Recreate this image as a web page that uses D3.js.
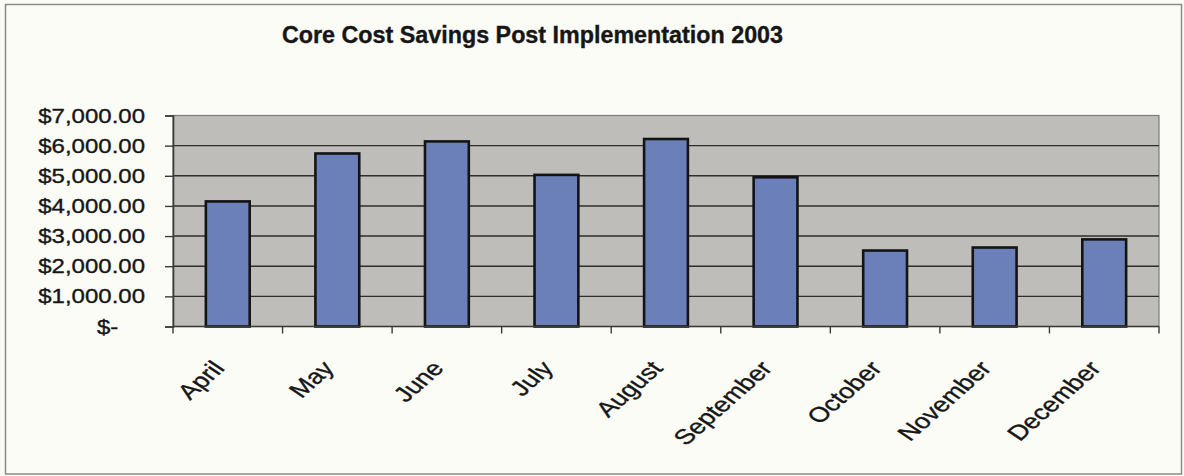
<!DOCTYPE html>
<html>
<head>
<meta charset="utf-8">
<script src="https://cdn.jsdelivr.net/npm/d3@7"></script>
<style>
  html, body { margin: 0; padding: 0; background: #fbfbf6; }
  svg { display: block; }
  text { font-family: "Liberation Sans", Arial, sans-serif; fill: #161616; stroke: #161616; stroke-width: 0.35px; }
</style>
</head>
<body>
<svg id="chart" width="1184" height="476"></svg>
<script>
const title = "Core Cost Savings Post Implementation 2003";
const months = ["April", "May", "June", "July", "August", "September", "October", "November", "December"];
const savings = [4150, 5740, 6140, 5030, 6220, 4950, 2520, 2620, 2890];
const yTicks = [0, 1000, 2000, 3000, 4000, 5000, 6000, 7000];
const yTickLabels = ["$-", "$1,000.00", "$2,000.00", "$3,000.00", "$4,000.00", "$5,000.00", "$6,000.00", "$7,000.00"];

const W = 1184, H = 476;
const plot = { left: 173, right: 1159, top: 115.5, bottom: 326.5 };

const svg = d3.select("#chart");

// outer chart border
svg.append("rect")
  .attr("x", 5.5).attr("y", 4.5)
  .attr("width", 1176).attr("height", 469.5)
  .attr("fill", "#fcfcf7")
  .attr("stroke", "#8a8a88").attr("stroke-width", 1.5);

const x = d3.scaleBand().domain(months)
  .range([plot.left, plot.right])
  .paddingInner(0.6).paddingOuter(0.3);
const y = d3.scaleLinear().domain([0, 7000]).range([plot.bottom, plot.top]);

// plot background
svg.append("rect")
  .attr("x", plot.left).attr("y", plot.top)
  .attr("width", plot.right - plot.left).attr("height", plot.bottom - plot.top)
  .attr("fill", "#bebdb9")
  .attr("stroke", "#7a7a78").attr("stroke-width", 1.2);

// gridlines
svg.append("g").selectAll("line")
  .data(yTicks.filter(d => d > 0 && d < 7000))
  .join("line")
  .attr("x1", plot.left).attr("x2", plot.right)
  .attr("y1", d => y(d)).attr("y2", d => y(d))
  .attr("stroke", "#2e2e2e").attr("stroke-width", 1.4);

// bars
svg.append("g").selectAll("rect")
  .data(months.map((m, i) => ({ m, v: savings[i] })))
  .join("rect")
  .attr("x", d => x(d.m))
  .attr("y", d => y(d.v))
  .attr("width", x.bandwidth())
  .attr("height", d => y(0) - y(d.v))
  .attr("fill", "#6b7fb8")
  .attr("stroke", "#141414").attr("stroke-width", 2.6);

// y axis
const yAxis = d3.axisLeft(y).tickValues(yTicks).tickSize(8).tickFormat("");
const gy = svg.append("g").attr("transform", `translate(${plot.left},0)`).call(yAxis);
gy.select(".domain").attr("stroke", "#3a3a3a").attr("stroke-width", 1.6);
gy.selectAll(".tick line").attr("stroke", "#3a3a3a").attr("stroke-width", 1.4);

const ylab = svg.append("g").selectAll("text")
  .data(yTicks.map((v, i) => ({ v, t: yTickLabels[i] })))
  .join("text")
  .attr("transform", d => `translate(145,${y(d.v)}) scale(1.2,1)`)
  .attr("text-anchor", "end")
  .attr("dy", "0.35em")
  .attr("font-size", 20);
ylab.append("tspan").text(d => d.t);
ylab.filter(d => d.v === 0).append("tspan").text("00").style("fill", "none").style("stroke", "none");

// x axis: ticks at category boundaries
const step = x.step();
const boundaries = d3.range(months.length + 1).map(i => plot.left + i * step);
svg.append("line")
  .attr("x1", plot.left).attr("x2", plot.right)
  .attr("y1", plot.bottom).attr("y2", plot.bottom)
  .attr("stroke", "#3a3a3a").attr("stroke-width", 1.6);
svg.append("g").selectAll("line")
  .data(boundaries)
  .join("line")
  .attr("x1", d => d).attr("x2", d => d)
  .attr("y1", plot.bottom).attr("y2", plot.bottom + 7)
  .attr("stroke", "#3a3a3a").attr("stroke-width", 1.4);

// month labels
svg.append("g").selectAll("text")
  .data(months)
  .join("text")
  .attr("transform", d => `translate(${x(d) + x.bandwidth() / 2 - 2},369) scale(1.3,1) rotate(-49)`)
  .attr("text-anchor", "end")
  .attr("font-size", 21)
  .text(d => d);

// title
svg.append("text")
  .attr("x", 532.5).attr("y", 43)
  .attr("text-anchor", "middle")
  .attr("font-size", 23.3)
  .attr("font-weight", "bold")
  .text(title);
</script>
</body>
</html>
